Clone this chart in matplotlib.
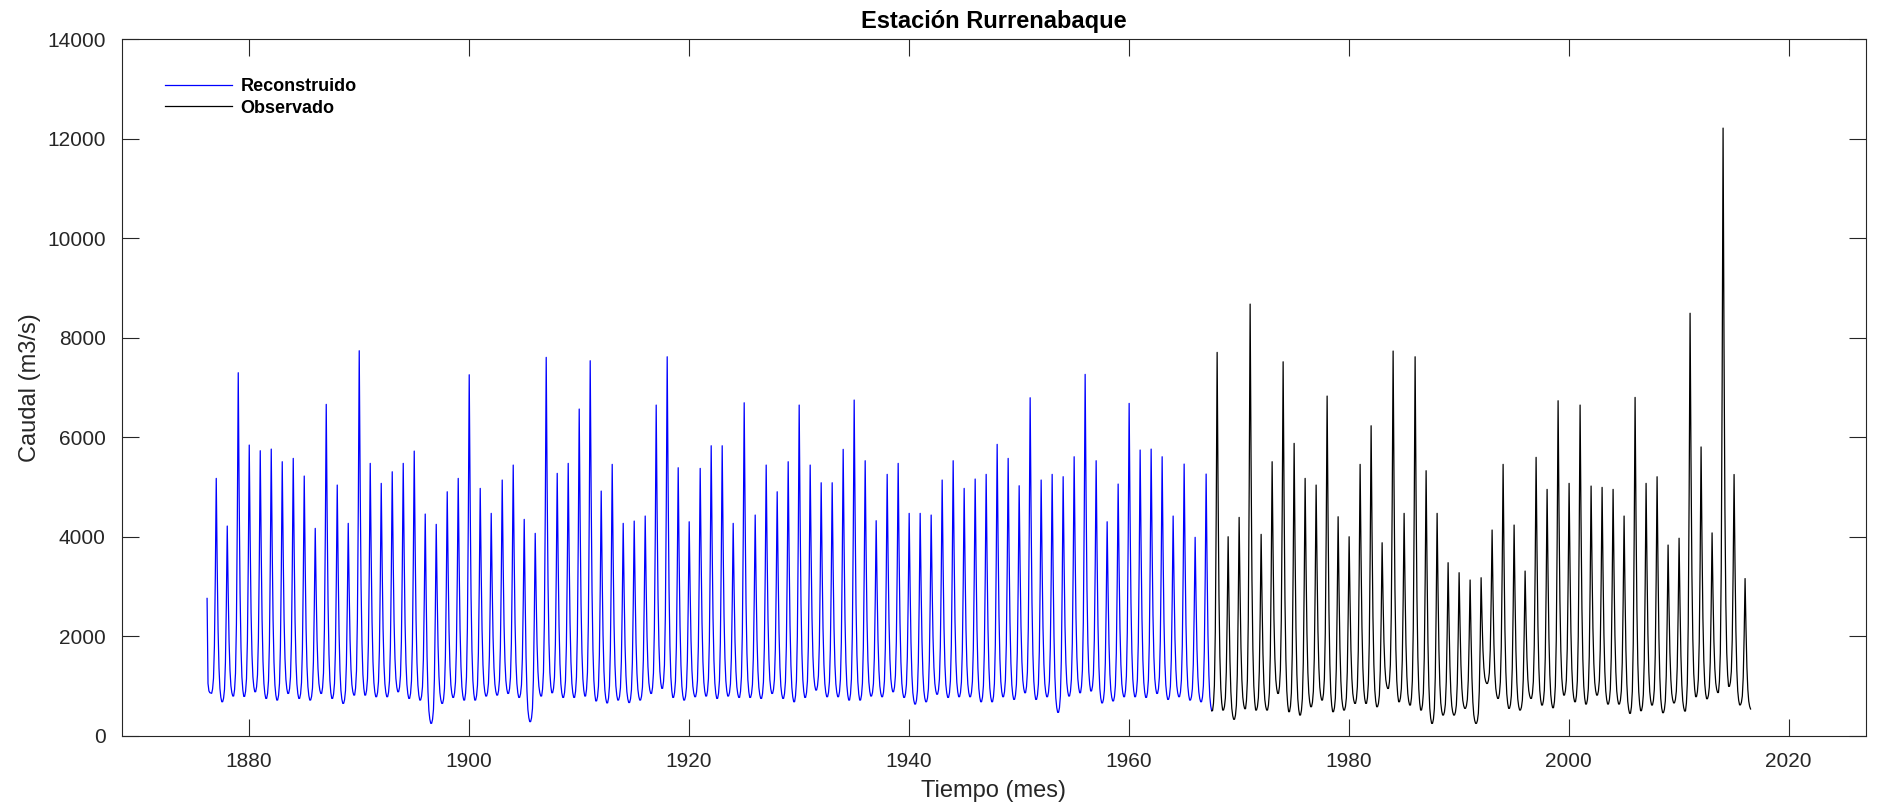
import numpy as np
import matplotlib.pyplot as plt

# Reconstructed series (blue): first months of 1876 (Mar-Jun)
rec_head = [2760, 1050, 900, 865]
rec_start_year = 1876

# annual flood peak (Jan) 1877-1967
rec_peaks = [5173, 4215, 7297, 5843, 5729, 5762, 5508, 5575, 5220, 4168,   # 1877-1886
             6661, 5039, 4269, 7739, 5475, 5073, 5306, 5475, 5722, 4456,   # 1887-1896
             4249, 4904, 5173, 7256, 4972, 4470, 5140, 5441, 4349, 4068,   # 1897-1906
             7606, 5274, 5475, 6567, 7538, 4918, 5455, 4269, 4315, 4416,   # 1907-1916
             6647, 7618, 5387, 4301, 5374, 5829, 5829, 4269, 6693, 4436,   # 1917-1926
             5441, 4904, 5508, 6647, 5441, 5085, 5085, 5757, 6748, 5528,   # 1927-1936
             4322, 5254, 5475, 4470, 4470, 4436, 5140, 5528, 4972, 5160,   # 1937-1946
             5254, 5857, 5575, 5025, 6794, 5140, 5254, 5207, 5608, 7264,   # 1947-1956
             5528, 4301, 5059, 6681, 5743, 5762, 5608, 4416, 5461, 3988,   # 1957-1966
             5260]                                                         # 1967

# dry-season minimum (Jul) 1876-1967
rec_lows = [852, 683, 798, 790, 884, 750, 717, 850, 750, 717,   # 1876-1885
            850, 750, 650, 817, 817, 784, 784, 884, 750, 717,   # 1886-1895
            249, 650, 770, 717, 717, 798, 817, 850, 770, 283,   # 1896-1905
            798, 864, 770, 770, 798, 700, 660, 717, 667, 717,   # 1906-1915
            850, 952, 770, 717, 784, 798, 750, 798, 770, 770,   # 1916-1925
            750, 850, 750, 683, 770, 918, 784, 784, 717, 717,   # 1926-1935
            798, 784, 884, 770, 637, 683, 834, 770, 784, 784,   # 1936-1945
            683, 683, 784, 730, 864, 730, 784, 469, 798, 864,   # 1946-1955
            900, 660, 700, 784, 784, 770, 850, 730, 784, 717,   # 1956-1965
            683, 503]                                           # 1966-1967

# Observed series (black): flood peak 1968-2016
obs_peaks = [7706, 4000, 4389, 8677, 4048, 5508, 7517, 5877, 5173, 5039,   # 1968-1977
             6828, 4402, 4000, 5455, 6231, 3879, 7733, 4470, 7618, 5327,   # 1978-1987
             4470, 3478, 3277, 3130, 3176, 4135, 5455, 4235, 3310, 5596,   # 1988-1997
             4952, 6734, 5073, 6647, 5019, 4992, 4952, 4416, 6801, 5073,   # 1998-2007
             5206, 3833, 3970, 8493, 5805, 4077, 12215, 5251, 3159]        # 2008-2016

# dry-season minimum 1967-2016
obs_lows = [503, 516, 330, 543, 516, 516, 850, 483, 416, 583,    # 1967-1976
            717, 483, 516, 650, 650, 583, 950, 683, 617, 516,    # 1977-1986
            248, 416, 416, 550, 248, 1050, 750, 550, 516, 750,   # 1987-1996
            617, 563, 817, 683, 637, 817, 637, 637, 450, 503,    # 1997-2006
            617, 463, 660, 496, 785, 744, 868, 992, 620, 537]    # 2007-2016

# typical hydrograph shape Aug..Jul, read from the plotted cycles
season = [0.0, 0.02, 0.07, 0.22, 0.55, 1.0, 0.62, 0.32, 0.15, 0.06, 0.02, 0.0]


def build_series(first_year, peaks, lows):
    t, q = [], []
    for i, peak in enumerate(peaks):
        year = first_year + i
        low_before, low_after = lows[i], lows[i + 1]
        for k, f in enumerate(season):
            # k=0 -> Aug of previous year, k=5 -> Jan
            month = (k + 7) % 12 + 1
            y = year - 1 if k < 5 else year
            low = low_before if k < 5 else low_after
            t.append(y + (month - 0.5) / 12)
            q.append(low + (peak - low) * f)
    return t, q


t_head = [rec_start_year + (m - 0.5) / 12 for m in range(3, 3 + len(rec_head))]
t_rec, q_rec = build_series(1877, rec_peaks, rec_lows)
t_rec = t_head + t_rec
q_rec = rec_head + q_rec

t_obs, q_obs = build_series(1968, obs_peaks, obs_lows)
t_obs = [1967 + 6.5 / 12] + t_obs
q_obs = [obs_lows[0]] + q_obs

plt.rcParams['font.family'] = ['Liberation Sans', 'DejaVu Sans']
axcol = '#262626'

fig = plt.figure(figsize=(18.81, 8.11), dpi=100)
ax = fig.add_axes([122.3 / 1881, 75.3 / 811, 1743.3 / 1881, 696.4 / 811])

ax.plot(t_rec, q_rec, color=(0, 0, 1), lw=0.9, label='Reconstruido')
ax.plot(t_obs, q_obs, color='black', lw=0.9, label='Observado')

ax.set_xlim(1868.5, 2027.0)
ax.set_ylim(0, 14000)
ax.set_xticks(np.arange(1880, 2021, 20))
ax.set_yticks(np.arange(0, 14001, 2000))

for s in ax.spines.values():
    s.set_color(axcol)
    s.set_linewidth(0.8)
ax.tick_params(direction='in', length=12.5, width=0.8, colors=axcol,
               labelsize=15, top=True, right=True, pad=12)

ax.set_title('Estación Rurrenabaque', fontsize=17, fontweight='bold', pad=8)
ax.set_xlabel('Tiempo (mes)', fontsize=17, color=axcol, labelpad=6)
ax.set_ylabel('Caudal (m3/s)', fontsize=17, color=axcol, labelpad=4)

leg = ax.legend(loc='upper left', bbox_to_anchor=(0.0247, 0.944), frameon=False,
                borderaxespad=0, borderpad=0, handlelength=3.7, handletextpad=0.45,
                labelspacing=0.25, prop={'weight': 'bold', 'size': 13})

fig.savefig('out.png', dpi=100)
